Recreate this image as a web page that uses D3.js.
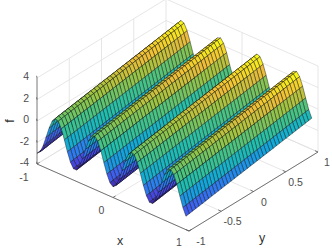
<!DOCTYPE html>
<html>
<head>
<meta charset="utf-8">
<style>
  html, body { margin: 0; padding: 0; background: #fff; }
  text { font-family: "Liberation Sans", Arial, sans-serif; }
</style>
<script src="https://cdn.jsdelivr.net/npm/d3@7"></script>
</head>
<body>
<div id="chart"></div>
<script>
// grid positions of the surface
const xGrid = [-1, -0.96, -0.92, -0.88, -0.84, -0.8, -0.76, -0.72, -0.68, -0.64,
  -0.6, -0.56, -0.52, -0.48, -0.44, -0.4, -0.36, -0.32, -0.28, -0.24,
  -0.2, -0.16, -0.12, -0.08, -0.04, 0, 0.04, 0.08, 0.12, 0.16,
  0.2, 0.24, 0.28, 0.32, 0.36, 0.4, 0.44, 0.48, 0.52, 0.56,
  0.6, 0.64, 0.68, 0.72, 0.76, 0.8, 0.84, 0.88, 0.92, 0.96];
const yGrid = [-1, -0.95, -0.9, -0.85, -0.8, -0.75, -0.7, -0.65, -0.6, -0.55,
  -0.5, -0.45, -0.4, -0.35, -0.3, -0.25, -0.2, -0.15, -0.1, -0.05,
  0, 0.05, 0.1, 0.15, 0.2, 0.25, 0.3, 0.35, 0.4, 0.45,
  0.5, 0.55, 0.6, 0.65, 0.7, 0.75, 0.8, 0.85, 0.9, 0.95];
// height of the ridges across x, seen at y = 0
const ridgeProfile = [-2, -1.75, -1.07, -0.13, 0.85, 1.61, 1.98, 1.86, 1.27, 0.37,
  -0.62, -1.46, -1.94, -1.94, -1.46, -0.62, 0.37, 1.27, 1.86, 1.98,
  1.61, 0.85, -0.13, -1.07, -1.75, -2, -1.75, -1.07, -0.13, 0.85,
  1.61, 1.98, 1.86, 1.27, 0.37, -0.62, -1.46, -1.94, -1.94, -1.46,
  -0.62, 0.37, 1.27, 1.86, 1.98, 1.62, 0.85, -0.12, -1.07, -1.75];
// rise of the whole surface along y
const yRise = [-1, -0.95, -0.9, -0.85, -0.8, -0.75, -0.7, -0.65, -0.6, -0.55,
  -0.5, -0.45, -0.4, -0.35, -0.3, -0.25, -0.2, -0.15, -0.1, -0.05,
  0, 0.05, 0.1, 0.15, 0.2, 0.25, 0.3, 0.35, 0.4, 0.45,
  0.5, 0.55, 0.6, 0.65, 0.7, 0.75, 0.8, 0.85, 0.9, 0.95];

const xTicks = [-1, 0, 1];
const yTicks = [-1, -0.5, 0, 0.5, 1];
const zTicks = [-4, -2, 0, 2, 4];
const xWallLines = [0, 1];
const xFloorLines = [-1, 0, 1];
const parula = ["#3e26a8", "#4850f0", "#2a80f0", "#10a8dc", "#1fbfb0", "#4cc47e", "#a0c440", "#f0bc38", "#f9fb15"];

const width = 332, height = 249;

// 3d position to screen: each data axis moves the point along its own direction
const xToH = d3.scaleLinear().domain([-1, 1]).range([0, 152]);
const xToV = d3.scaleLinear().domain([-1, 1]).range([0, 67]);
const yToH = d3.scaleLinear().domain([-1, 1]).range([37, 166]);
const yToV = d3.scaleLinear().domain([-1, 1]).range([164, 85]);
const zToV = d3.scaleLinear().domain([-4, 4]).range([0, -86]);
const project = (x, y, z) => [xToH(x) + yToH(y), xToV(x) + yToV(y) + zToV(z)];

const color = d3.scaleLinear()
  .domain(d3.quantize(d3.interpolate(-3, 2.95), parula.length))
  .range(parula)
  .clamp(true);

const svg = d3.select("#chart").append("svg")
  .attr("width", width)
  .attr("height", height)
  .style("display", "block");

const line3d = (a, b) => {
  const p = project(...a), q = project(...b);
  return `M${p[0]},${p[1]}L${q[0]},${q[1]}`;
};

// back walls and floor grid
const grid = [];
xWallLines.forEach(x => grid.push([[x, 1, -4], [x, 1, 4]]));
xFloorLines.forEach(x => grid.push([[x, -1, -4], [x, 1, -4]]));
yTicks.forEach(y => {
  grid.push([[-1, y, -4], [1, y, -4]]);
  if (y > -1) grid.push([[-1, y, -4], [-1, y, 4]]);
});
zTicks.forEach(z => {
  grid.push([[-1, -1, z], [-1, 1, z]]);
  grid.push([[-1, 1, z], [1, 1, z]]);
});

svg.append("g").selectAll("path")
  .data(grid)
  .enter().append("path")
  .attr("d", d => line3d(d[0], d[1]))
  .attr("fill", "none")
  .attr("stroke", "#dfdfdf")
  .attr("stroke-width", 0.8);

// axis lines and ticks
const axes = [
  [[-1, -1, -4], [1, -1, -4]],
  [[1, -1, -4], [1, 1, -4]],
  [[-1, -1, -4], [-1, -1, 4]]
];
xTicks.forEach(x => axes.push([[x, -1, -4], [x, -0.96, -4]]));
yTicks.forEach(y => axes.push([[1, y, -4], [0.96, y, -4]]));
zTicks.forEach(z => axes.push([[-1, -1, z], [-1.03, -0.97, z]]));

svg.append("g").selectAll("path")
  .data(axes)
  .enter().append("path")
  .attr("d", d => line3d(d[0], d[1]))
  .attr("fill", "none")
  .attr("stroke", "#555")
  .attr("stroke-width", 0.8);

// surface cells, painted from the far corner towards the viewer
const cells = [];
for (let i = 0; i < xGrid.length - 1; i++) {
  for (let j = yGrid.length - 2; j >= 0; j--) {
    cells.push({i, j});
  }
}
const f = (i, j) => ridgeProfile[i] + yRise[j];
const corner = (i, j) => project(xGrid[i], yGrid[j], f(i, j));

svg.append("g").selectAll("path")
  .data(cells)
  .enter().append("path")
  .attr("d", d => "M" + [corner(d.i, d.j), corner(d.i + 1, d.j), corner(d.i + 1, d.j + 1), corner(d.i, d.j + 1)].join("L") + "Z")
  .attr("fill", d => color(f(d.i, d.j)))
  .attr("stroke", "#111")
  .attr("stroke-width", 0.45);

// tick labels, placed by hand against the projected axes
const labelColor = "#4d4d4d";
const label = (txt, px, py, size, fill) => svg.append("text")
  .attr("x", px).attr("y", py)
  .attr("text-anchor", "middle")
  .attr("dominant-baseline", "central")
  .attr("font-size", size)
  .attr("fill", fill)
  .text(txt);

const zLabelY = d3.scaleLinear().domain([-4, 4]).range([162, 76]);
zTicks.forEach(z => svg.append("text")
  .attr("x", 29).attr("y", zLabelY(z))
  .attr("text-anchor", "end")
  .attr("dominant-baseline", "central")
  .attr("font-size", 10.5)
  .attr("fill", labelColor)
  .text(z));

const xLabelH = d3.scaleLinear().domain([-1, 1]).range([24, 179]);
const xLabelV = d3.scaleLinear().domain([-1, 1]).range([177, 242]);
xTicks.forEach(x => label(x, xLabelH(x), xLabelV(x), 10.5, labelColor));

const yLabelH = d3.scaleLinear().domain([-1, 1]).range([201, 327]);
const yLabelV = d3.scaleLinear().domain([-1, 1]).range([241, 162]);
yTicks.forEach(y => label(y, yLabelH(y), yLabelV(y), 10.5, labelColor));

label("x", 120, 241, 12.5, "#333");
label("y", 262, 238, 12.5, "#333");
label("f", 10, 121, 12.5, "#333").attr("transform", "rotate(-90 10 121)");
</script>
</body>
</html>
